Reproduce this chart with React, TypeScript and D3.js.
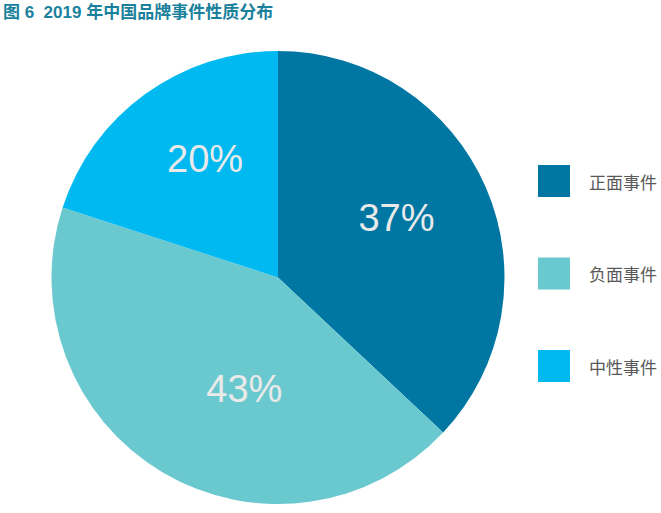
import React from "react";
import * as d3 from "d3";

const categories = ["正面事件", "负面事件", "中性事件"];
const values = [37, 43, 20];
const labels = ["37%", "43%", "20%"];
const colors = ["#0077A3", "#6AC9CF", "#00B9F1"];
const titleText = "图 6  2019 年中国品牌事件性质分布";

// layout for label placement (nudge from centroid)
const labelNudge: [number, number][] = [
  [0, -8],
  [32, 0],
  [3, -14],
];

const W = 661;
const H = 513;
const cx = 278;
const cy = 277.5;
const R = 226.5;

export default function App() {
  const pie = d3.pie<number>().sort(null).value((d) => d)(values);
  const arc = d3.arc<d3.PieArcDatum<number>>().innerRadius(0).outerRadius(R);
  const labelArc = d3
    .arc<d3.PieArcDatum<number>>()
    .innerRadius(R * 0.57)
    .outerRadius(R * 0.57);
  const legendY = d3.scalePoint<string>().domain(categories).range([181, 366]);
  const font = "'Liberation Sans', Arial, 'Noto Sans CJK SC', sans-serif";
  return (
    <svg
      width={W}
      height={H}
      style={{ position: "absolute", left: 0, top: 0, background: "#fff" }}
    >
      <text
        x={3}
        y={18}
        fontSize={17}
        fontWeight="bold"
        fill="#1A819C"
        fontFamily={font}
        style={{ whiteSpace: "pre" }}
      >
        {titleText}
      </text>
      <g transform={`translate(${cx},${cy})`}>
        {pie.map((d, i) => (
          <path key={i} d={arc(d) || ""} fill={colors[i]} />
        ))}
        {pie.map((d, i) => {
          const [x, y] = labelArc.centroid(d);
          return (
            <text
              key={"l" + i}
              x={x + labelNudge[i][0]}
              y={y + labelNudge[i][1]}
              textAnchor="middle"
              dominantBaseline="central"
              fontSize={38}
              fill="#EAEAEA"
              fontFamily={font}
            >
              {labels[i]}
            </text>
          );
        })}
      </g>
      {categories.map((c, i) => {
        const y = legendY(c) as number;
        return (
          <g key={"lg" + i}>
            <rect x={538} y={y - 16} width={32} height={32} fill={colors[i]} />
            <text
              x={589}
              y={y}
              dominantBaseline="central"
              fontSize={17}
              fill="#595959"
              fontFamily="'Noto Sans CJK SC', sans-serif"
            >
              {c}
            </text>
          </g>
        );
      })}
    </svg>
  );
}
